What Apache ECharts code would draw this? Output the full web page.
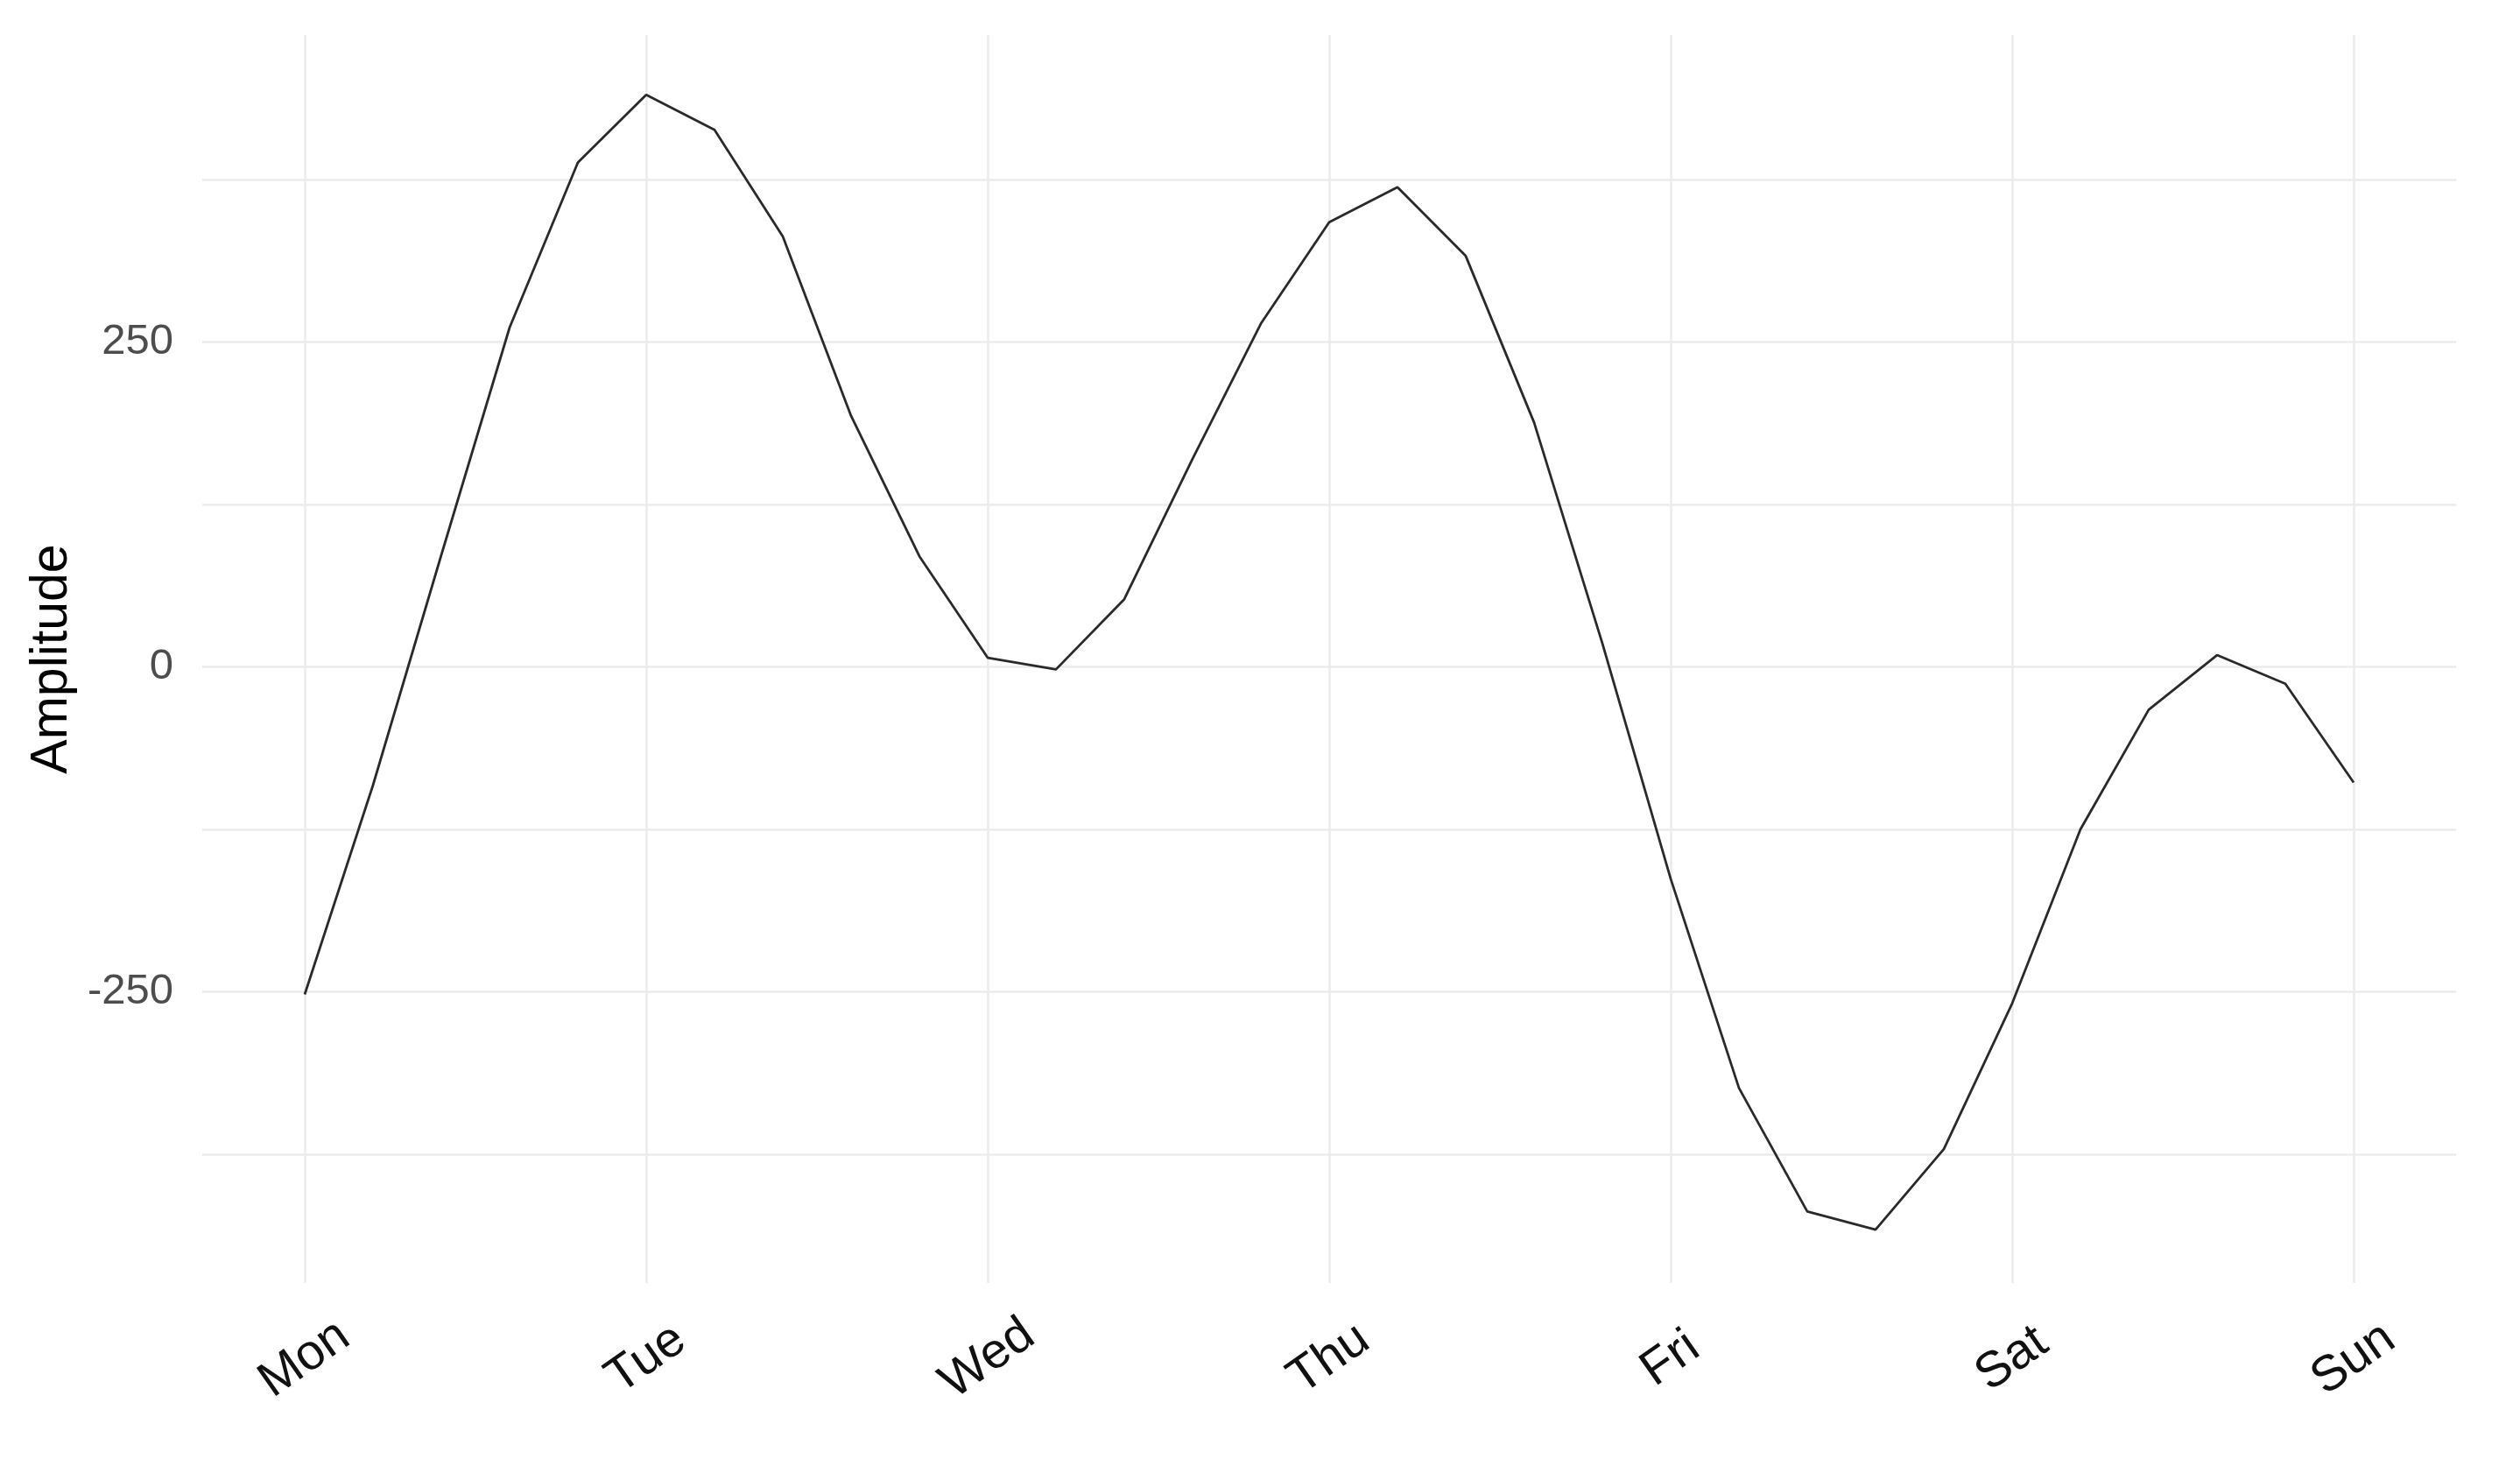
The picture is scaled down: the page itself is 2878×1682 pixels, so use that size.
<!DOCTYPE html>
<html>
<head>
<meta charset="utf-8">
<script src="https://cdn.jsdelivr.net/npm/echarts@6/dist/echarts.min.js"></script>
<style>
html,body{margin:0;padding:0;background:#fff;}
#chart{width:2878px;height:1682px;}
</style>
</head>
<body>
<div id="chart"></div>
<script>
// Day labels (one every 5 samples)
const days = ['Mon', 'Tue', 'Wed', 'Thu', 'Fri', 'Sat', 'Sun'];
const samplesPerDay = 5;
// Amplitude samples (31 points, 5 per day)
const amplitude = [-252, -91, 86, 261, 388, 440, 413, 331, 193, 85,
                   7, -2, 52, 160, 264, 342, 369, 316, 188, 18,
                   -163, -324, -419, -433, -371, -259, -125, -33, 9, -13,
                   -89];
const yLabelValues = [-250, 0, 250];
const yGridValues = [-375, -250, -125, 0, 125, 250, 375];

const xTickValues = days.map((d, i) => i * samplesPerDay);
const seriesData = amplitude.map((v, i) => [i, v]);

const chart = echarts.init(document.getElementById('chart'));
chart.setOption({
  backgroundColor: '#ffffff',
  animation: false,
  grid: { left: 231, right: 73, top: 40, bottom: 217 },
  xAxis: {
    type: 'value',
    min: -1.5,
    max: 31.5,
    axisLine: { show: false },
    axisTick: { show: false, customValues: xTickValues },
    axisLabel: {
      customValues: xTickValues,
      formatter: v => days[Math.round(v / samplesPerDay)],
      rotate: 35,
      align: 'center',
      verticalAlign: 'middle',
      margin: 87,
      fontFamily: 'Liberation Sans',
      fontSize: 57,
      color: '#111111'
    },
    splitLine: { show: true, lineStyle: { color: '#ebebeb', width: 2.5 } }
  },
  yAxis: {
    type: 'value',
    min: -474,
    max: 486,
    name: 'Amplitude',
    nameLocation: 'middle',
    nameGap: 140,
    nameRotate: 90,
    nameTextStyle: { fontFamily: 'Liberation Sans', fontSize: 59, color: '#000000' },
    axisLine: { show: false },
    axisTick: { show: false, customValues: yGridValues },
    axisLabel: {
      customValues: yLabelValues,
      margin: 33,
      fontFamily: 'Liberation Sans',
      fontSize: 49,
      color: '#4d4d4d'
    },
    splitLine: { show: true, lineStyle: { color: '#ebebeb', width: 2.5 } }
  },
  series: [{
    type: 'line',
    data: seriesData,
    symbol: 'none',
    lineStyle: { color: '#2a2a2a', width: 2.8 }
  }]
});
</script>
</body>
</html>
